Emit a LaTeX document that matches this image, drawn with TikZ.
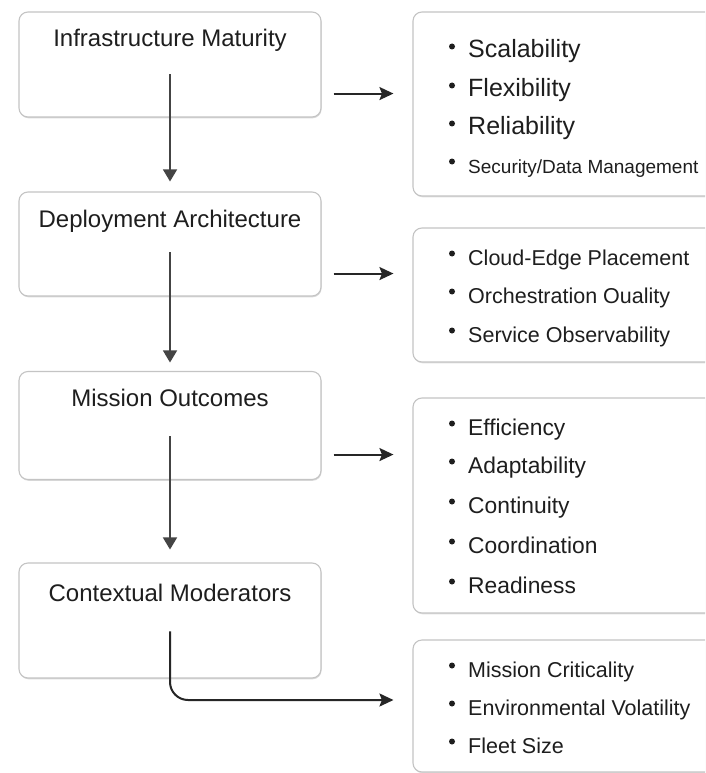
\documentclass[tikz,border=0pt]{standalone}
\usepackage{fontspec}
\setmainfont{Liberation Sans}
\usetikzlibrary{arrows.meta,shadows,calc}
\definecolor{txt}{HTML}{1E1E1E}
\definecolor{boxline}{HTML}{C4C4C4}
\definecolor{arr}{HTML}{262626}
\definecolor{varr}{HTML}{444444}
\begin{document}
\begin{tikzpicture}[x=1pt,y=-1pt,
  lbox/.style={draw=boxline, line width=1.1pt, rounded corners=9pt, fill=white,
    minimum width=302pt, inner sep=0pt,
    drop shadow={shadow xshift=0.6pt, shadow yshift=-1.3pt, fill=black, opacity=0.15}},
  rbox/.style={draw=boxline, line width=1.1pt, rounded corners=9pt, fill=white,
    minimum width=330pt, inner sep=0pt,
    drop shadow={shadow xshift=0.6pt, shadow yshift=-1.3pt, fill=black, opacity=0.12}},
  ttl/.style={anchor=base, inner sep=0pt, text=txt, font=\fontsize{24}{28}\selectfont},
  itm/.style={anchor=base west, inner sep=0pt, text=txt},
  bul/.style={fill=txt},
  varrow/.style={draw=varr, line width=1.4pt, -{Triangle[length=12pt,width=14pt]}},
  harrow/.style={draw=arr, line width=2pt, -{Stealth[length=14pt,width=13pt,inset=2.5pt]}}
]
\useasboundingbox (0,0) rectangle (705,773);
\clip (0,0) rectangle (705,773);
\fill[white] (0,0) rectangle (705,773);

% left boxes
\node[lbox, minimum height=105pt] (b1) at (170,64.5) {};
\node[lbox, minimum height=104pt] (b2) at (170,244) {};
\node[lbox, minimum height=108pt] (b3) at (170,425.5) {};
\node[lbox, minimum height=115pt] (b4) at (170,620.5) {};

\node[ttl] (t1) at ([yshift=-35pt]b1.north) {Infrastructure Maturity};
\node[ttl] (t2) at ([yshift=-36pt]b2.north) {Deployment Architecture};
\node[ttl] (t3) at ([yshift=-35.5pt]b3.north) {Mission Outcomes};
\node[ttl] (t4) at ([yshift=-39pt]b4.north) {Contextual Moderators};

% right boxes
\node[rbox, minimum height=184pt] (r1) at (578,104) {};
\node[rbox, minimum height=134pt] (r2) at (578,295) {};
\node[rbox, minimum height=215pt] (r3) at (578,505.5) {};
\node[rbox, minimum height=132pt] (r4) at (578,706) {};

% items
\node[itm, font=\fontsize{25}{29}\selectfont] (i11) at (468,58) {Scalability};
\node[itm, font=\fontsize{25}{29}\selectfont] (i12) at (468,97) {Flexibility};
\node[itm, font=\fontsize{25}{29}\selectfont] (i13) at (468,135) {Reliability};
\node[itm, font=\fontsize{19}{23}\selectfont] (i14) at (468,173) {Security/Data Management};

\node[itm, font=\fontsize{21.5}{25}\selectfont] (i21) at (468,265) {Cloud-Edge Placement};
\node[itm, font=\fontsize{21.5}{25}\selectfont] (i22) at (468,303) {Orchestration Ouality};
\node[itm, font=\fontsize{21.5}{25}\selectfont] (i23) at (468,342) {Service Observability};

\node[itm, font=\fontsize{22.8}{26}\selectfont] (i31) at (468,435) {Efficiency};
\node[itm, font=\fontsize{22.8}{26}\selectfont] (i32) at (468,473) {Adaptability};
\node[itm, font=\fontsize{22.8}{26}\selectfont] (i33) at (468,513) {Continuity};
\node[itm, font=\fontsize{22.8}{26}\selectfont] (i34) at (468,553) {Coordination};
\node[itm, font=\fontsize{22.8}{26}\selectfont] (i35) at (468,593) {Readiness};

\node[itm, font=\fontsize{21.5}{25}\selectfont] (i41) at (468,677) {Mission Criticality};
\node[itm, font=\fontsize{21.5}{25}\selectfont] (i42) at (468,715) {Environmental Volatility};
\node[itm, font=\fontsize{21.5}{25}\selectfont] (i43) at (468,753) {Fleet Size};

\foreach \n in {i11,i12,i13,i14,i21,i22,i23,i31,i32,i33,i34,i35,i41,i42,i43}
  \fill[bul] ([shift={(-16pt,11.5pt)}]\n.base west) circle (3pt);

% vertical connectors
\draw[varrow] ([yshift=-63pt]b1.north) -- ([yshift=10pt]b2.north);
\draw[varrow] ([yshift=-61pt]b2.north) -- ([yshift=8.5pt]b3.north);
\draw[varrow] ([yshift=-65.5pt]b3.north) -- ([yshift=13pt]b4.north);

% horizontal connectors
\coordinate (h1s) at ([shift={(12pt,24pt)}]b1.south east);
\coordinate (h2s) at ([shift={(12pt,23pt)}]b2.south east);
\coordinate (h3s) at ([shift={(12pt,25.5pt)}]b3.south east);
\draw[harrow] (h1s) -- ($(h1s -| r1.west)+(-19,0)$);
\draw[harrow] (h2s) -- ($(h2s -| r2.west)+(-19,0)$);
\draw[harrow] (h3s) -- ($(h3s -| r3.west)+(-19,0)$);

% moderator connector
\draw[harrow, rounded corners=18pt] ([yshift=-69pt]b4.north) |- ($(r4.west)+(-19,-6)$);
\end{tikzpicture}
\end{document}
